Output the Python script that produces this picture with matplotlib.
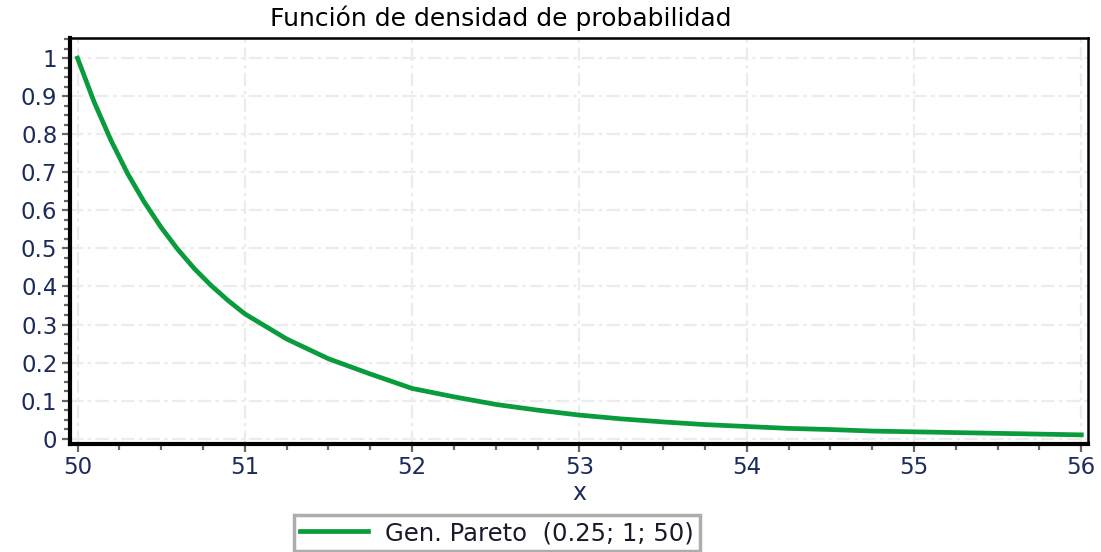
import numpy as np
import matplotlib
matplotlib.use('Agg')
import matplotlib.pyplot as plt
from matplotlib.ticker import MultipleLocator

# values
x_vals = [50.0, 50.1, 50.2, 50.3, 50.4, 50.5, 50.6, 50.7, 50.8, 50.9, 51.0,
          51.25, 51.5, 51.75, 52.0, 52.25, 52.5, 52.75, 53.0, 53.25, 53.5,
          53.75, 54.0, 54.25, 54.5, 54.75, 55.0, 55.25, 55.5, 55.75, 56.0]
pdf_vals = [1.0, 0.884, 0.784, 0.696, 0.621, 0.555, 0.497, 0.446, 0.402, 0.363, 0.328,
            0.262, 0.210, 0.170, 0.132, 0.110, 0.090, 0.075, 0.062, 0.052, 0.044,
            0.037, 0.032, 0.027, 0.024, 0.020, 0.018, 0.016, 0.014, 0.012, 0.010]
series_label = 'Gen. Pareto  (0.25; 1; 50)'
title = 'Función de densidad de probabilidad'

plt.rcParams['font.family'] = ['DejaVu Sans']
tick_col = '#1c2b5c'

fig = plt.figure(figsize=(11.01, 5.52), dpi=100)
ax = fig.add_axes([70 / 1101, 1 - 444 / 552, (1088 - 70) / 1101, (444 - 38) / 552])

ax.plot(x_vals, pdf_vals, color='#0a9b3c', linewidth=3.4, label=series_label,
        solid_joinstyle='round', zorder=3)

ax.set_xlim(49.955, 56.04)
ax.set_ylim(-0.014, 1.053)
ax.xaxis.set_major_locator(MultipleLocator(1))
ax.xaxis.set_minor_locator(MultipleLocator(0.25))
ax.yaxis.set_major_locator(MultipleLocator(0.1))
ax.yaxis.set_minor_locator(MultipleLocator(0.025))
ax.yaxis.set_major_formatter(lambda v, p: '0' if abs(v) < 1e-9 else ('1' if abs(v - 1) < 1e-9 else f'{v:.1f}'))

ax.grid(True, which='major', color='#ececec', linestyle=(0, (6, 2, 1.5, 2)), linewidth=1.6, zorder=0)

for side in ['left', 'bottom']:
    ax.spines[side].set_linewidth(3.0)
for side in ['top', 'right']:
    ax.spines[side].set_linewidth(1.8)

ax.tick_params(which='major', direction='out', length=6, width=1.6, color='#666666',
               labelsize=16.5, labelcolor=tick_col, pad=3)
ax.tick_params(which='minor', direction='out', length=4, width=1.6, color='#666666')

fig.text(501 / 1101, 1 - 18 / 552, title, fontsize=18, ha='center', va='center')
ax.set_xlabel('x', fontsize=17, color=tick_col, labelpad=1)

leg = fig.legend(loc='center', bbox_to_anchor=(497 / 1101, 1 - 533 / 552), fontsize=17.5,
                 frameon=True, fancybox=False, handlelength=2.8, borderpad=0.25,
                 handletextpad=0.7)
leg.get_frame().set_edgecolor('#999999')
leg.get_frame().set_linewidth(2.5)
for t in leg.get_texts():
    t.set_color('#1a1a2a')

fig.savefig('out.png', dpi=100)
